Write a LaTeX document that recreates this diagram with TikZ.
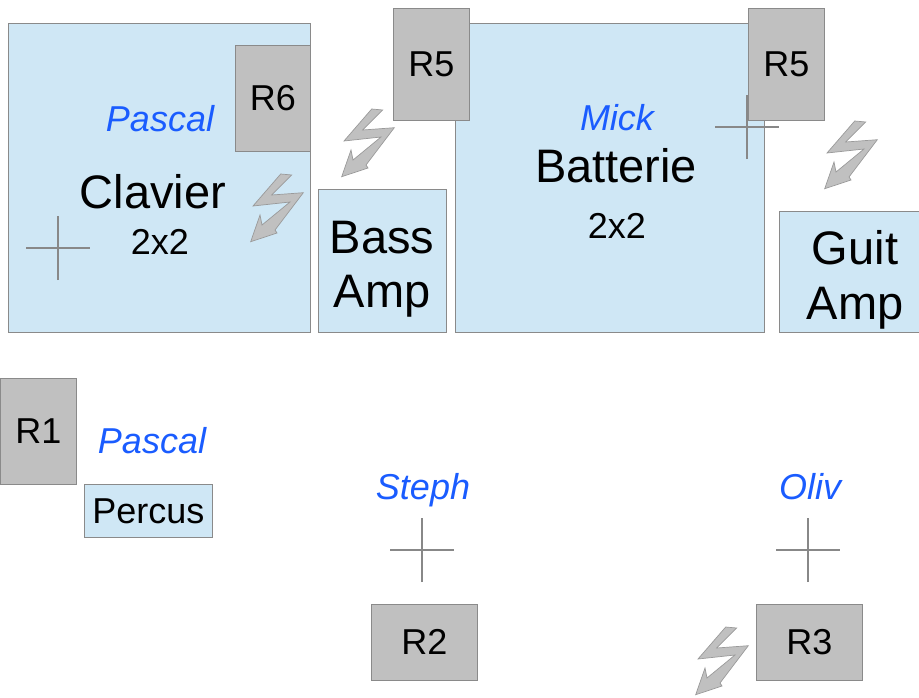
\documentclass[tikz,border=0pt]{standalone}
\usepackage{fontspec}
\setmainfont{Liberation Sans}
\definecolor{paleblue}{HTML}{CFE7F5}
\definecolor{boxline}{HTML}{8A8A8A}
\definecolor{grayfill}{HTML}{C0C0C0}
\definecolor{namecol}{HTML}{1A5CFF}
\definecolor{crosscol}{HTML}{888888}
\definecolor{boltline}{HTML}{9A9A9A}
\begin{document}
\begin{tikzpicture}[x=1pt,y=-1pt,
  bluebox/.style={draw=boxline,fill=paleblue,line width=0.8pt,inner sep=0pt,anchor=north west},
  graybox/.style={draw=boxline,fill=grayfill,line width=0.8pt,inner sep=0pt,anchor=north west,font=\fontsize{36}{40}\selectfont},
  bigtxt/.style={inner sep=0pt,anchor=base,font=\fontsize{47}{54}\selectfont},
  smalltxt/.style={inner sep=0pt,anchor=base,font=\fontsize{36}{40}\selectfont},
  nametxt/.style={inner sep=0pt,anchor=base,text=namecol,font=\fontsize{36}{40}\selectfont\itshape},
  crossline/.style={draw=crosscol,line width=1.6pt},
  bolt/.pic={\draw[draw=boltline,fill=grayfill,line width=0.7pt,line join=miter]
     (40.7,14) -- (51.7,15) -- (31.7,35) -- (63.3,32.7) -- (35,70) -- (37,73)
     -- (10.7,81.7) -- (20,55) -- (22,65) -- (50,42) -- (13,46) -- cycle;}]
\useasboundingbox (0,0) rectangle (919,697);

% top blue boxes
\node[bluebox,minimum width=302pt,minimum height=309pt] (clav) at (8,23) {};
\node[bluebox,minimum width=128pt,minimum height=143pt] (bass) at (318,189) {};
\node[bluebox,minimum width=309pt,minimum height=309pt] (batt) at (455,23) {};
\node[bluebox,minimum width=140pt,minimum height=121pt] (guit) at (779,211) {};

% gray boxes
\node[graybox,minimum width=75pt,minimum height=106pt] (r6) at (235,45) {R6};
\node[graybox,minimum width=76pt,minimum height=112pt] (r5a) at (393,8) {R5};
\node[graybox,minimum width=76pt,minimum height=112pt] (r5b) at (748,8) {R5};
\node[graybox,minimum width=76pt,minimum height=106pt] (r1) at (0,378) {R1};
\node[graybox,minimum width=106pt,minimum height=76pt] (r2) at (371,604) {R2};
\node[graybox,minimum width=106pt,minimum height=76pt] (r3) at (756,604) {R3};

% percus
\node[bluebox,minimum width=128pt,minimum height=53pt,font=\fontsize{36}{40}\selectfont] (perc) at (84,484) {Percus};

% texts
\node[nametxt] (pascal1) at (160,131) {Pascal};
\node[bigtxt] (clavt) at (153,208) {Clavier};
\node[smalltxt] (dim1) at (160,254) {2x2};
\node[bigtxt] (basst) at (382,253) {Bass};
\node[bigtxt] (ampt1) at (382,307) {Amp};
\node[nametxt] (mick) at (617,130) {Mick};
\node[bigtxt] (battt) at (616,182) {Batterie};
\node[smalltxt] (dim2) at (617,238) {2x2};
\node[bigtxt] (guitt) at (855,264) {Guit};
\node[bigtxt] (ampt2) at (855,319) {Amp};
\node[nametxt] (pascal2) at (152,453) {Pascal};
\node[nametxt] (steph) at (423,499) {Steph};
\node[nametxt] (oliv) at (810,499) {Oliv};

% crosses
\coordinate (c1) at (58,248);
\coordinate (c2) at (747,127);
\coordinate (c3) at (422,550);
\coordinate (c4) at (808,550);
\foreach \c in {c1,c2,c3,c4}{
  \draw[crossline] ([xshift=-32pt]\c) -- ([xshift=32pt]\c);
  \draw[crossline] ([yshift=-32pt]\c) -- ([yshift=32pt]\c);
}

% lightning bolts
\pic at (240,160) {bolt};
\pic at (331,95) {bolt};
\pic at (814,107) {bolt};
\pic at (685,613) {bolt};
\end{tikzpicture}
\end{document}
